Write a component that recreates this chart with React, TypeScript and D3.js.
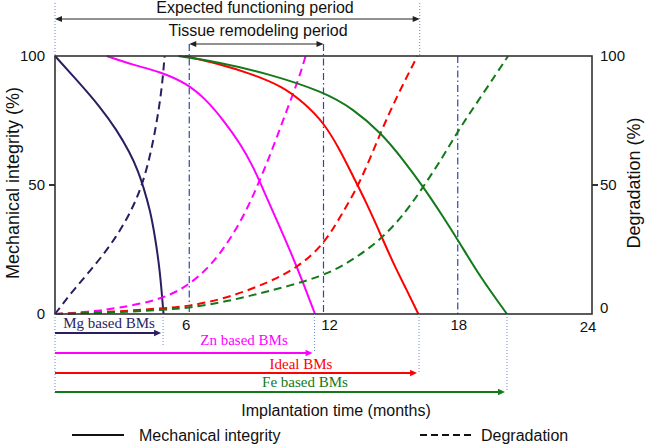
import React from "react";
import * as d3 from "d3";

// ---- data (months, percent) ----
const mgIntT = [0, 0.97, 2.01, 2.76, 3.35, 3.72, 3.95, 4.25, 4.47, 4.69, 4.85];
const mgIntV = [100, 90.7, 80.4, 71.3, 62.5, 55.3, 49.3, 40.3, 30, 17, 0];
const mgDegT = [0, 0.82, 1.86, 2.76, 3.43, 3.87, 4.25, 4.54, 4.77, 4.9];
const mgDegV = [0, 9.3, 19.6, 30, 40.3, 49.3, 61, 73.9, 86.8, 100];

const znIntT = [2.31, 3.5, 4.69, 5.89, 6.78, 7.52, 8.27, 8.86, 9.31, 9.91, 10.5, 11.1, 11.62];
const znIntV = [100, 96.5, 93.9, 89.4, 82.9, 75.2, 66.2, 57.1, 48.1, 36.4, 24.8, 11.9, 0];
const znDegT = [0, 1.5, 2.76, 4.69, 5.89, 6.93, 7.82, 8.57, 9.16, 9.76, 10.36, 10.88, 11.2];
const znDegV = [0, 0.8, 2.2, 5.4, 10.6, 18.3, 28.7, 40.3, 51.9, 64.8, 79.1, 90.7, 100];

const idealIntT = [5.81, 7.23, 8.72, 10.2, 11.1, 11.99, 12.74, 13.33, 13.93, 14.53, 15.12, 15.72, 16.24];
const idealIntV = [100, 97.2, 93.3, 88.1, 82, 74.5, 63.6, 53.2, 42.9, 31.3, 19.6, 9.3, 0];
const idealDegT = [0, 2.76, 4.69, 5.89, 7.67, 9.46, 10.8, 11.99, 12.74, 13.63, 14.53, 15.27, 16.2];
const idealDegV = [0, 0.9, 2.2, 2.8, 6.1, 11.9, 17.7, 26.7, 37.5, 50.6, 70, 84.2, 100];

const feIntT = [5.51, 7.23, 9.46, 11.99, 13.33, 14.6, 15.57, 16.46, 17.35, 18.1, 18.99, 20.2];
const feIntV = [100, 97.8, 93.3, 86.2, 79.5, 70, 59.7, 49.3, 37.7, 27.4, 14.5, 0];
const feDegT = [0, 2.76, 4.69, 5.89, 7.67, 9.46, 11.99, 13.33, 14.67, 15.72, 16.46, 17.35, 18.1, 19.14, 20.25];
const feDegV = [0, 0.6, 1.6, 2.2, 4.8, 8.6, 14.5, 21, 29.5, 40, 49.3, 61, 72.3, 85.5, 100];

const materials = ["Mg based BMs", "Zn based BMs", "Ideal BMs", "Fe based BMs"];
const lifetimes = [4.83, 11.6, 16.27, 20.2];
const colors = ["#2a1d62", "#ff00ff", "#ff0000", "#127a18"];

const xTicks = [6, 12, 18, 24];
const yTicks = [0, 50, 100];
const markerMonths = [6, 12, 18];
const tissuePeriod = [6, 12];
const expectedPeriod = [0, 16.3];

const W = 645, H = 444;
const x = d3.scaleLinear().domain([0, 24]).range([55, 592]);
const y = d3.scaleLinear().domain([0, 100]).range([314, 56]);
const line = d3
  .line<[number, number]>()
  .x((d) => x(d[0]))
  .y((d) => y(d[1]))
  .curve(d3.curveBasis);

const zip = (t: number[], v: number[]) => t.map((tt, i) => [tt, v[i]] as [number, number]);

const curves = [
  { t: mgIntT, v: mgIntV, c: 0, dash: false },
  { t: mgDegT, v: mgDegV, c: 0, dash: true },
  { t: znIntT, v: znIntV, c: 1, dash: false },
  { t: znDegT, v: znDegV, c: 1, dash: true },
  { t: idealIntT, v: idealIntV, c: 2, dash: false },
  { t: idealDegT, v: idealDegV, c: 2, dash: true },
  { t: feIntT, v: feIntV, c: 3, dash: false },
  { t: feDegT, v: feDegV, c: 3, dash: true },
];

const SANS = "'Liberation Sans', Arial, sans-serif";
const SERIF = "'Liberation Serif', 'Times New Roman', serif";
const DOT = "#6d87d6";
const DASHDOT = "#2f46a8";

function Arrow({ x1, x2, yy, color, both = false, w = 1.5, hl = 7, hw = 3 }: any) {
  return (
    <g>
      <line x1={both ? x1 + hl - 1 : x1} x2={x2 - hl + 1} y1={yy} y2={yy} stroke={color} strokeWidth={w} />
      <path d={`M${x2},${yy} L${x2 - hl},${yy - hw} L${x2 - hl},${yy + hw} Z`} fill={color} />
      {both && <path d={`M${x1},${yy} L${x1 + hl},${yy - hw} L${x1 + hl},${yy + hw} Z`} fill={color} />}
    </g>
  );
}

const labelY = [328, 345, 369, 387];
const arrowY = [333, 353, 373, 392];
const labelCx = [109, 244, 301, 305];

export default function App() {
  return (
    <svg width={W} height={H} style={{ position: "absolute", left: 0, top: 0, background: "#fff" }}>
      {/* top annotations */}
      <line x1={x(expectedPeriod[0])} x2={x(expectedPeriod[0])} y1={3} y2={56} stroke={DOT} strokeWidth={1} strokeDasharray="1,2" />
      <line x1={x(expectedPeriod[1])} x2={x(expectedPeriod[1])} y1={3} y2={56} stroke={DOT} strokeWidth={1} strokeDasharray="1,2" />
      <text x={255} y={13} fontFamily={SANS} fontSize={16} textAnchor="middle" fill="#111">Expected functioning period</text>
      <Arrow x1={x(expectedPeriod[0])} x2={x(expectedPeriod[1])} yy={19} color="#222" both w={1} hl={7} hw={3} />
      <text x={258} y={36} fontFamily={SANS} fontSize={16} textAnchor="middle" fill="#111">Tissue remodeling period</text>
      <Arrow x1={x(tissuePeriod[0])} x2={x(tissuePeriod[1])} yy={44} color="#222" both w={1} hl={7} hw={3} />

      {/* dash-dot month markers */}
      {markerMonths.map((m) => (
        <line key={m} x1={x(m)} x2={x(m)} y1={tissuePeriod.includes(m) ? 44 : 56} y2={314}
          stroke={DASHDOT} strokeWidth={1.2} strokeDasharray="7,3,1.5,3" />
      ))}

      {/* curves */}
      {curves.map((cv, i) => (
        <path key={i} d={line(zip(cv.t, cv.v)) || ""} fill="none" stroke={colors[cv.c]}
          strokeWidth={2} strokeDasharray={cv.dash ? "8,5" : undefined} />
      ))}

      {/* frame */}
      <rect x={55} y={56} width={537} height={258} fill="none" stroke="#333" strokeWidth={1.6} />
      <line x1={49} x2={55} y1={y(50)} y2={y(50)} stroke="#333" strokeWidth={2} />
      <line x1={592} x2={598} y1={y(50)} y2={y(50)} stroke="#333" strokeWidth={2} />

      {/* y tick labels */}
      {yTicks.map((v) => (
        <text key={"l" + v} x={45} y={y(v) + 5} fontFamily={SANS} fontSize={15} textAnchor="end" fill="#111">{v}</text>
      ))}
      {yTicks.map((v) => (
        <text key={"r" + v} x={600} y={y(v) + (v === 0 ? -1 : 5)} fontFamily={SANS} fontSize={15} textAnchor="start" fill="#111">{v}</text>
      ))}
      {/* x tick labels */}
      {xTicks.map((t) => (
        <text key={t} x={x(t) + (t === 24 ? -4 : t === 6 ? -3 : t === 12 ? 6 : 1)} y={t === 24 ? 332 : 330} fontFamily={SANS} fontSize={15} textAnchor="middle" fill="#111">{t}</text>
      ))}

      {/* axis titles */}
      <text transform="translate(19,183) rotate(-90)" fontFamily={SANS} fontSize={18} textAnchor="middle" fill="#111">Mechanical integrity (%)</text>
      <text transform="translate(640,183) rotate(-90)" fontFamily={SANS} fontSize={18} textAnchor="middle" fill="#111">Degradation (%)</text>

      {/* bottom material lifetimes */}
      <line x1={55} x2={55} y1={314} y2={394} stroke={DOT} strokeWidth={1} strokeDasharray="1,2" />
      {materials.map((m, i) => (
        <g key={m}>
          <line x1={x(lifetimes[i])} x2={x(lifetimes[i])} y1={314} y2={arrowY[i] + (i === 0 ? 12 : 0)} stroke={DOT} strokeWidth={1} strokeDasharray="1,2" />
          <text x={labelCx[i]} y={labelY[i]} fontFamily={SERIF} fontSize={15} textAnchor="middle" fill={colors[i]}>{m}</text>
          <Arrow x1={55} x2={x(lifetimes[i]) - 2} yy={arrowY[i]} color={colors[i]} w={2} hl={7} hw={3.2} />
        </g>
      ))}

      <text x={336} y={416} fontFamily={SANS} fontSize={16} textAnchor="middle" fill="#111">Implantation time (months)</text>

      {/* legend */}
      <line x1={72} x2={124} y1={435} y2={435} stroke="#111" strokeWidth={2} />
      <text x={139} y={441} fontFamily={SANS} fontSize={16} fill="#111">Mechanical integrity</text>
      <line x1={420} x2={474} y1={435} y2={435} stroke="#111" strokeWidth={2} strokeDasharray="7,4" />
      <text x={481} y={441} fontFamily={SANS} fontSize={16} fill="#111">Degradation</text>
    </svg>
  );
}
